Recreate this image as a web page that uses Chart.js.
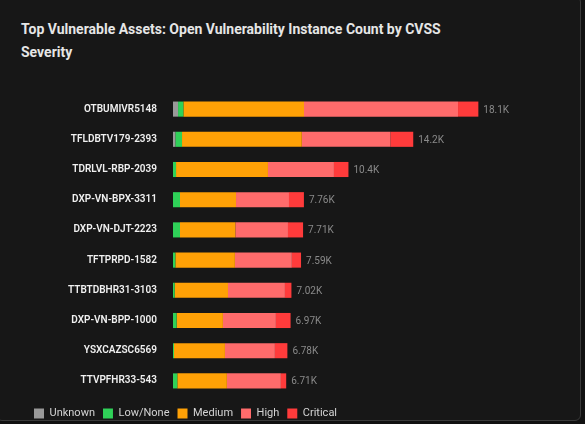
<!DOCTYPE html>
<html>
<head>
<meta charset="utf-8">
<script src="https://cdn.jsdelivr.net/npm/chart.js@4.4.1/dist/chart.umd.min.js"></script>
<style>
  html, body { margin: 0; padding: 0; background: #111111; width: 585px; height: 424px; overflow: hidden; }
  #card {
    position: absolute; left: -4px; top: -4px; width: 585px; height: 425px;
    background: #171717; border: 1px solid #3a3a3a; border-radius: 6px; box-sizing: border-box;
  }
  #chart-title {
    position: absolute; left: 21px; top: 18px; width: 520px;
    font-family: 'Roboto', 'Liberation Sans', sans-serif; font-size: 14px; font-weight: bold;
    line-height: 23px; color: #e6e6e6;
  }
  #wrap { position: absolute; left: 0; top: 0; width: 585px; height: 429px; }
</style>
</head>
<body>
<div id="card"></div>
<div id="chart-title">Top Vulnerable Assets: Open Vulnerability Instance Count by CVSS<br>Severity</div>
<div id="wrap"><canvas id="assets-chart"></canvas></div>
<script>
// Assets (top to bottom)
const assets = ['OTBUMIVR5148', 'TFLDBTV179-2393', 'TDRLVL-RBP-2039', 'DXP-VN-BPX-3311', 'DXP-VN-DJT-2223',
    'TFTPRPD-1582', 'TTBTDBHR31-3103', 'DXP-VN-BPP-1000', 'YSXCAZSC6569', 'TTVPFHR33-543'];

// Instance counts per severity
const unknownCounts = [300, 140, 0, 0, 0, 0, 0, 0, 0, 0];
const lowCounts = [315, 395, 180, 415, 415, 140, 100, 215, 60, 255];
const mediumCounts = [7150, 7100, 5450, 3320, 3280, 3530, 3160, 2745, 3020, 2940];
const highCounts = [9130, 5250, 3910, 3140, 3120, 3375, 3375, 3140, 2960, 3200];
const criticalCounts = [1205, 1355, 860, 885, 895, 545, 385, 870, 740, 315];

// Labels shown after each bar
const totalLabels = ['18.1K', '14.2K', '10.4K', '7.76K', '7.71K', '7.59K', '7.02K', '6.97K', '6.78K', '6.71K'];

const severityNames = ['Unknown', 'Low/None', 'Medium', 'High', 'Critical'];
const severityColors = ['#999999', '#2fd158', '#ffa106', '#ff6b6b', '#ff3b3b'];

const fontFamily = "'Roboto', 'Liberation Sans', sans-serif";

// dibuja el total al final de cada barra
const totalsPlugin = {
    id: 'totals',
    afterDatasetsDraw(chart) {
        const ctx = chart.ctx;
        const xScale = chart.scales.x;
        const yScale = chart.scales.y;
        ctx.save();
        ctx.font = "10px " + fontFamily;
        ctx.fillStyle = '#8a8a8a';
        ctx.textBaseline = 'middle';
        ctx.textAlign = 'left';
        assets.forEach((name, i) => {
            const total = unknownCounts[i] + lowCounts[i] + mediumCounts[i] + highCounts[i] + criticalCounts[i];
            ctx.fillText(totalLabels[i], xScale.getPixelForValue(total) + 5, yScale.getPixelForValue(i) + 1);
        });
        ctx.restore();
    }
};

const seriesData = [unknownCounts, lowCounts, mediumCounts, highCounts, criticalCounts];

const config = {
    type: 'bar',
    data: {
        labels: assets,
        datasets: severityNames.map((name, k) => ({
            label: name,
            data: seriesData[k],
            backgroundColor: severityColors[k],
            borderWidth: 0,
            barPercentage: 0.5,
            categoryPercentage: 1
        }))
    },
    options: {
        indexAxis: 'y',
        responsive: true,
        maintainAspectRatio: false,
        animation: false,
        layout: { padding: { left: 26, right: 40, top: 94, bottom: 0 } },
        plugins: {
            legend: {
                display: true,
                position: 'bottom',
                align: 'start',
                labels: {
                    color: '#d4d4d4',
                    boxWidth: 10,
                    boxHeight: 10,
                    padding: 8,
                    font: { family: fontFamily, size: 11 }
                }
            },
            tooltip: { enabled: false }
        },
        scales: {
            x: {
                stacked: true,
                min: 0,
                max: 22050,
                grid: { display: false },
                border: { display: false },
                ticks: { display: false },
                afterFit(scale) { scale.height = 4; }
            },
            y: {
                stacked: true,
                grid: { display: false },
                border: { display: false },
                ticks: {
                    color: '#f0f0f0',
                    padding: 8,
                    font: { family: fontFamily, size: 10, weight: '600' }
                },
                afterFit(scale) { scale.width = 147; }
            }
        }
    },
    plugins: [totalsPlugin]
};

const ctx = document.getElementById('assets-chart').getContext('2d');
new Chart(ctx, config);
</script>
</body>
</html>
